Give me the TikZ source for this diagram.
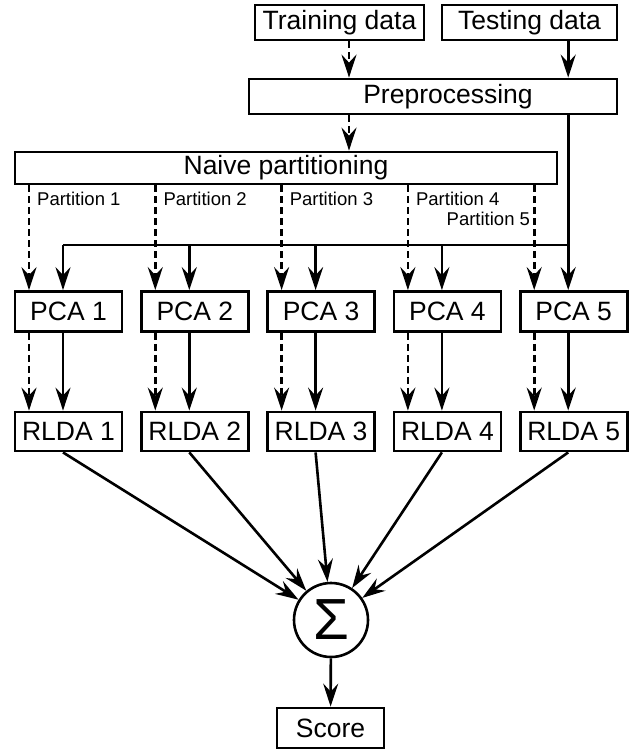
\documentclass[tikz,border=0pt]{standalone}
\usepackage{fontspec}
\setmainfont{Liberation Sans}
\usetikzlibrary{arrows.meta,calc}
\begin{document}
\begin{tikzpicture}[x=1pt,y=-1pt,
  box/.style={draw,line width=2.8pt,inner sep=0pt,font=\fontsize{26.5}{29}\selectfont},
  arr/.style={line width=2.6pt,-{Stealth[length=23pt,width=15pt,inset=8pt]}},
  dasharr/.style={arr,dash pattern=on 7pt off 4pt},
  plab/.style={inner sep=0pt,font=\fontsize{18.5}{21}\selectfont}]
\useasboundingbox (0,0) rectangle (639,754);
% input boxes
\node[box,minimum width=169pt,minimum height=35pt] (train) at (339.5,22.5) {Training data};
\node[box,minimum width=175pt,minimum height=35pt] (test) at (529.5,22.5) {Testing data};
\node[box,minimum width=368pt,minimum height=35pt] (prep) at (433,96.5) {\hspace*{30pt}Preprocessing};
\node[box,minimum width=542pt,minimum height=32pt] (naive) at (286,168) {Naive partitioning};
\coordinate (tx) at (349,0);
\coordinate (busy) at (0,245);
% columns
\foreach \i in {1,...,5}{
  \pgfmathsetmacro{\lft}{15+126.3*(\i-1)}
  \coordinate (d\i) at (\lft+14,0);
  \coordinate (s\i) at (\lft+48,0);
  \node[box,minimum width=107pt,minimum height=40pt] (pca\i) at (\lft+53.5,311.5) {PCA \i};
  \node[box,minimum width=107pt,minimum height=39pt] (rlda\i) at (\lft+53.5,431.5) {RLDA \i};
}
\node[draw,circle,line width=2.6pt,minimum size=74pt,inner sep=0pt,font=\fontsize{58}{62}\selectfont] (sigma) at (331,620) {Σ};
\node[box,minimum width=107pt,minimum height=40pt] (score) at (330.5,728) {Score};
% partition labels
\foreach \i in {1,...,4}{
  \node[plab,anchor=west] (plab\i) at ($(d\i)+(8,199)$) {Partition \i};
}
\node[plab,anchor=east] (plab5) at ($(d5)+(-4,219)$) {Partition 5};
% top arrows
\draw[dasharr] (train.south -| tx) -- (prep.north -| tx);
\draw[arr] (test.south -| s5) -- (prep.north -| s5);
\draw[dasharr] (prep.south -| tx) -- (naive.north -| tx);
\draw[arr] (prep.south -| s5) -- (pca5.north -| s5);
\draw[line width=2.6pt] (s1 |- busy) -- (s5 |- busy);
\foreach \i in {1,...,5}{
  \draw[dasharr] (naive.south -| d\i) -- (pca\i.north -| d\i);
  \draw[dasharr] (pca\i.south -| d\i) -- (rlda\i.north -| d\i);
  \draw[arr] (pca\i.south -| s\i) -- (rlda\i.north -| s\i);
  \draw[arr] (rlda\i.south -| s\i) -- (sigma);
}
\foreach \i in {1,...,4}{
  \draw[arr] (s\i |- busy) -- (pca\i.north -| s\i);
}
\draw[arr] (sigma) -- (score);
\end{tikzpicture}
\end{document}
